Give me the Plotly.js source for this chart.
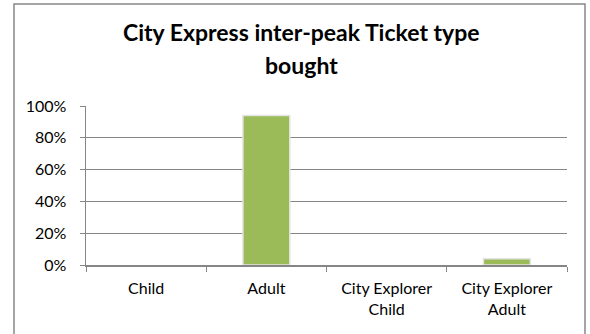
<!DOCTYPE html>
<html>
<head>
<meta charset="utf-8">
<script src="https://cdn.plot.ly/plotly-3.0.1.min.js"></script>
<style>
html,body{margin:0;padding:0;background:#fff;}
#chart{width:590px;height:334px;}
</style>
</head>
<body>
<div id="chart"></div>
<script>
const categories = ["Child", "Adult", "City Explorer<br>Child", "City Explorer<br>Adult"];
const shares = [0, 0.94, 0, 0.04];
const yTicks = [0, 0.2, 0.4, 0.6, 0.8, 1.0];
const titleLines = ["City Express inter-peak Ticket type", "bought"];

const font = "Lato, Carlito, sans-serif";

const trace = {
  type: "bar",
  x: categories,
  y: shares,
  width: 0.39,
  marker: {color: "#9BBB59", line: {color: "#E4E4E4", width: shares.map(v => v > 0 ? 1.5 : 0)}},
  hoverinfo: "skip"
};

const layout = {
  width: 590, height: 334,
  margin: {l: 86, r: 23, t: 106, b: 69},
  paper_bgcolor: "#ffffff",
  plot_bgcolor: "#ffffff",
  showlegend: false,
  font: {family: font, size: 16, color: "#000"},
  xaxis: {
    type: "category",
    tickson: "boundaries",
    ticks: "outside", ticklen: 5, tickcolor: "#868686",
    ticklabelstandoff: 8,
    showline: true, linecolor: "#868686", linewidth: 1.5,
    showgrid: false,
    tickfont: {family: font, size: 16, color: "#000"},
    fixedrange: true
  },
  yaxis: {
    range: [0, 1],
    tickvals: yTicks,
    tickformat: ".0%",
    ticks: "outside", ticklen: 5, tickcolor: "#868686",
    ticklabelstandoff: 10,
    showline: true, linecolor: "#868686", linewidth: 1.5,
    showgrid: true, gridcolor: "#868686", gridwidth: 1,
    zeroline: false,
    tickfont: {family: font, size: 16, color: "#000"},
    fixedrange: true
  },
  annotations: [
    {text: "<b>" + titleLines[0] + "</b>", xref: "paper", yref: "paper",
     x: 0.447, y: 1.465, xanchor: "center", yanchor: "middle", showarrow: false,
     font: {family: font, size: 23, color: "#000"}},
    {text: "<b>" + titleLines[1] + "</b>", xref: "paper", yref: "paper",
     x: 0.447, y: 1.258, xanchor: "center", yanchor: "middle", showarrow: false,
     font: {family: font, size: 23, color: "#000"}}
  ],
  shapes: [{
    type: "rect", xref: "paper", yref: "paper",
    x0: -0.1497, x1: 1.0374, y0: -0.46, y1: 1.6415,
    line: {color: "#888888", width: 1.5},
    fillcolor: "rgba(0,0,0,0)", layer: "below"
  }]
};

Plotly.newPlot("chart", [trace], layout, {displayModeBar: false, staticPlot: true});
</script>
</body>
</html>
